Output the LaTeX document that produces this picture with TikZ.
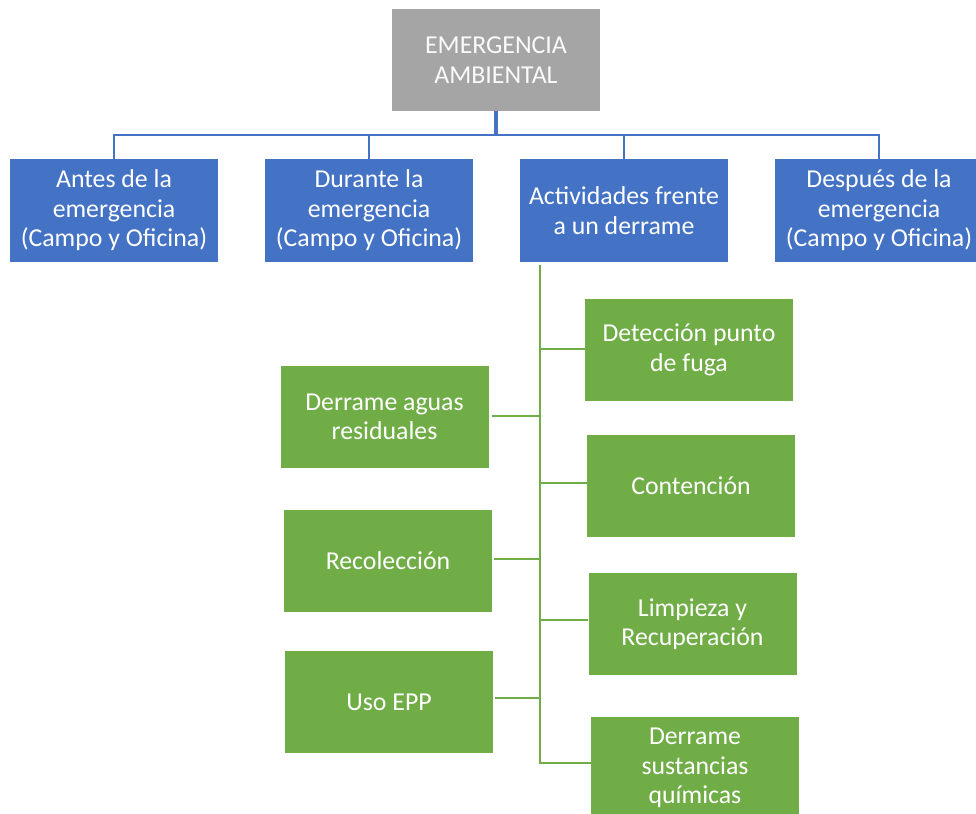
\documentclass[tikz,border=0pt]{standalone}
\usepackage{fontspec}
\setmainfont{Carlito}
\usetikzlibrary{%
    calc, %
    positioning%
}
\definecolor{officeblue}{HTML}{4472C4}
\definecolor{officegreen}{HTML}{70AD47}
\definecolor{officegray}{HTML}{A5A5A5}
\tikzset{
    phase/.style={fill=officeblue, text=white, minimum width=208pt, minimum height=102pt,
        inner sep=0pt, align=center, font=\fontsize{25.8}{29.5}\selectfont},
    task/.style={phase, fill=officegreen},
    bluelink/.style={officeblue, line width=2pt},
    greenlink/.style={officegreen, line width=2.5pt},
}

\begin{document}
\begin{tikzpicture}[x=1pt,y=-1pt]
				\useasboundingbox (0,0) rectangle (976,813);

				\node[phase, fill=officegray, text=white!95!officegray] (top) at (496,60) {EMERGENCIA\\AMBIENTAL};

				\node[phase] (antes) at (114,210.5) {Antes de la\\emergencia\\(Campo y Oficina)};
				\node[phase] (durante) at (369,210.5) {Durante la\\emergencia\\(Campo y Oficina)};
				\node[phase] (actividades) at (624,210.5) {Actividades frente\\a un derrame};
				\node[phase] (despues) at (879,210.5) {Después de la\\emergencia\\(Campo y Oficina)};

				% actividades frente a un derrame
				\node[task] (deteccion) at (689,350) {Detección punto\\de fuga};
				\node[task] (contencion) at (691,485.5) {Contención};
				\node[task] (limpieza) at (692.5,624) {Limpieza y\\Recuperación};
				\node[task] (sustancias) at (695,768) {Derrame\\sustancias\\químicas};
				\node[task] (aguas) at (384.5,417) {Derrame aguas\\residuales};
				\node[task] (recoleccion) at (388,561) {Recolección};
				\node[task] (epp) at (389,702) {Uso EPP};

				\coordinate (bus) at (0,135);
				\coordinate (spine) at (540,265);

				\draw[bluelink] (antes.north) -- (antes.north |- bus) -- (despues.north |- bus) -- (despues.north);
				\draw[bluelink] (durante.north) -- (durante.north |- bus);
				\draw[bluelink] (actividades.north) -- (actividades.north |- bus);
				\draw[officeblue, line width=4.5pt] (top.south) -- (top.south |- bus);

				\draw[greenlink] (spine) -- ([yshift=5pt]spine |- sustancias.west) -- ([yshift=5pt]sustancias.west);
				\draw[greenlink] ([yshift=1pt]deteccion.west) -- ([yshift=1pt]deteccion.west -| spine);
				\draw[greenlink] ([yshift=2.5pt]contencion.west) -- ([yshift=2.5pt]contencion.west -| spine);
				\draw[greenlink] ([yshift=4pt]limpieza.west) -- ([yshift=4pt]limpieza.west -| spine);
				\draw[greenlink] ([xshift=3pt,yshift=1pt]aguas.east) -- ([yshift=1pt]aguas.east -| spine);
				\draw[greenlink] ([xshift=2pt,yshift=2pt]recoleccion.east) -- ([yshift=2pt]recoleccion.east -| spine);
				\draw[greenlink] ([xshift=2pt,yshift=4pt]epp.east) -- ([yshift=4pt]epp.east -| spine);
\end{tikzpicture}
\end{document}
